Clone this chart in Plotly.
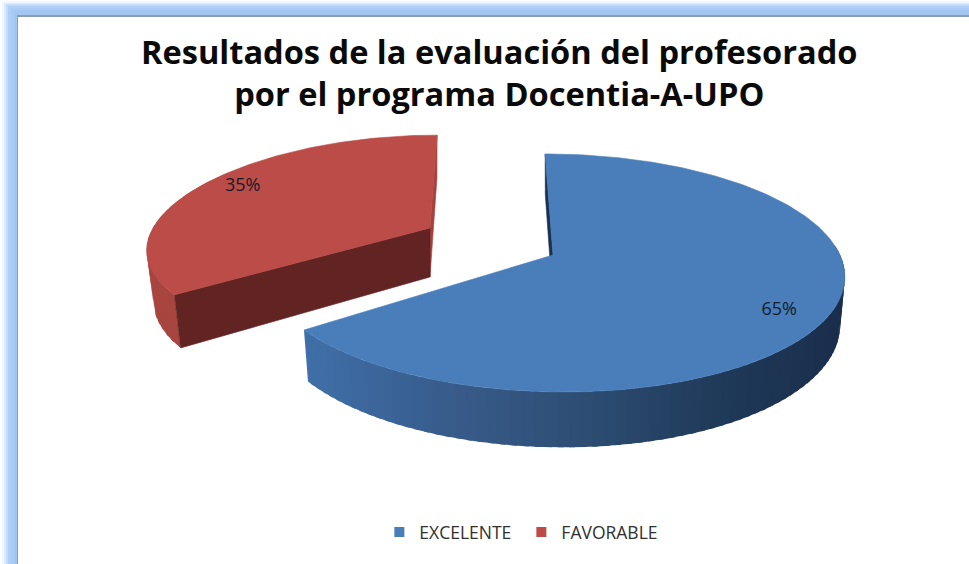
import math
import plotly.graph_objects as go

categories = ["EXCELENTE", "FAVORABLE"]
values = [65, 35]
title_lines = ["Resultados de la evaluación del profesorado", "por el programa Docentia-A-UPO"]

WIDTH, HEIGHT = 969, 564
# projection parameters of each exploded slice (style only)
BLUE_P = dict(ax=553, ay=255, R=287, H=116.3, k=0.151, s=-9, c=0, depth=47, shrink=0.984, label_r=0.84)
RED_P = dict(ax=430, ay=228, R=277, H=105, k=0.1307, s=8, c=-15, depth=49, shrink=0.976, label_r=0.865)
BLUE_TOP, RED_TOP = "#4A7EBB", "#BB4C48"
BLUE_WALL, RED_WALL, RED_SIDE, RED_SLIVER = "#1B3050", "#622423", "#A8453F", "#A5423E"
LABEL_DY = 2.5


def project(t_deg, r, p, bottom=False):
    t = math.radians(t_deg)
    u, v = r * math.sin(t), r * math.cos(t)
    d = 1 + p["k"] * v
    x = (p["R"] * u + p["s"] * v + p["c"] * u * v) / d
    y = -p["H"] * v / d
    if bottom:
        x *= p["shrink"]
        y += p["depth"] / d
    return p["ax"] + x, p["ay"] + y


def arc(t0, t1, p, bottom=False, step=1.0):
    n = max(1, int(abs(t1 - t0) / step))
    return [project(t0 + (t1 - t0) * i / n, 1, p, bottom) for i in range(n + 1)]


def poly(pts, color, width=0.6):
    xs, ys = zip(*pts)
    return go.Scatter(x=list(xs) + [xs[0]], y=list(ys) + [ys[0]], mode="lines", fill="toself",
                      fillcolor=color, line=dict(color=color, width=width), hoverinfo="skip",
                      showlegend=False)


def lerp_color(x):
    stops = [(300, (64, 112, 170)), (450, (56, 92, 140)), (600, (45, 76, 114)), (720, (32, 58, 90)), (845, (26, 46, 76))]
    for (a, ca), (b, cb) in zip(stops, stops[1:]):
        if x <= b:
            f = max(0, (x - a) / (b - a))
            return "rgb(%d,%d,%d)" % tuple(round(ca[i] + (cb[i] - ca[i]) * f) for i in range(3))
    return "rgb(%d,%d,%d)" % stops[-1][1]


total = sum(values)
blue_end = 360 * values[0] / total
red_start, red_end = blue_end, 360.0

fig = go.Figure()

# red slice
rp = RED_P
apex_r = (rp["ax"], rp["ay"])
apex_rb = project(0, 0, rp, True)
t = red_start
while t < 300.0:
    t1 = min(t + 3.0, 300.0)
    fig.add_trace(poly(arc(t, t1 + 1.5, rp, step=0.5) + arc(t1 + 1.5, t, rp, True, step=0.5), RED_SIDE, width=0))
    t = t1
fig.add_trace(poly([apex_r, project(red_end, 1, rp), project(red_end, 1, rp, True), apex_rb], RED_SLIVER))
fig.add_trace(poly([apex_r, project(red_start, 1, rp), project(red_start, 1, rp, True), apex_rb], RED_WALL))
fig.add_trace(poly([apex_r] + arc(red_start, red_end, rp), RED_TOP))

# blue slice
bp = BLUE_P
apex_b = (bp["ax"], bp["ay"])
apex_bb = project(0, 0, bp, True)
fig.add_trace(poly([apex_b, project(0, 1, bp), project(0, 1, bp, True), apex_bb], BLUE_WALL))
t = blue_end
while t > 85.0:
    # strips run from the light end to the dark end and overlap, so no seams show
    t1 = max(t - 2.0, 85.0)
    mx = project((t + t1) / 2, 1, bp)[0]
    t_far = min(t + 1.0, blue_end)
    fig.add_trace(poly(arc(t_far, t1, bp, step=0.5) + arc(t1, t_far, bp, True, step=0.5), lerp_color(mx), width=0))
    t = t1
fig.add_trace(poly([apex_b] + arc(0, blue_end, bp), BLUE_TOP))

# percentage labels
for val, mid, p in [(values[0], blue_end / 2, bp), (values[1], (red_start + red_end) / 2, rp)]:
    lx, ly = project(mid + 3.5, p["label_r"], p)
    fig.add_trace(go.Scatter(x=[lx], y=[ly + LABEL_DY], mode="text", text=[f"{val}%"], hoverinfo="skip",
                             textfont=dict(family="Open Sans", size=18, color="#141c28"), showlegend=False))

# legend entries
for name, color in zip(categories, [BLUE_TOP, RED_TOP]):
    fig.add_trace(go.Scatter(x=[None], y=[None], mode="markers", name=name,
                             marker=dict(symbol="square", size=10, color=color)))

shapes = []
bands = [(0, "#FBFDFF"), (2, "#F0F6FE"), (4, "#DCEAFB"), (6, "#C4DCF8"), (8, "#AFCFF6"), (11, "#A8CBF5"), (14, "#A3C7F2")]
for off, col in bands:
    shapes.append(dict(type="rect", x0=off, x1=WIDTH + 20, y0=off * 0.72, y1=HEIGHT + 20, fillcolor=col,
                       line_width=0, layer="below"))
shapes.append(dict(type="rect", x0=17, x1=WIDTH + 20, y0=15, y1=HEIGHT + 20, fillcolor="#8A9DB8",
                   line_width=0, layer="below"))
shapes.append(dict(type="rect", x0=18, x1=WIDTH + 20, y0=17, y1=HEIGHT + 20, fillcolor="#FFFFFF",
                   line_width=0, layer="below"))

fig.update_layout(
    width=WIDTH, height=HEIGHT, margin=dict(l=0, r=0, t=0, b=0),
    paper_bgcolor="white", plot_bgcolor="white",
    xaxis=dict(range=[0, WIDTH], visible=False, fixedrange=True),
    yaxis=dict(range=[HEIGHT, 0], visible=False, fixedrange=True),
    shapes=shapes,
    title=dict(text="<br>".join(f"<b>{s}</b>" for s in title_lines), x=0.5152, xanchor="center",
               y=0.887, yanchor="middle",
               font=dict(family="Open Sans", size=32.6, color="#0a0a0a")),
    legend=dict(orientation="h", x=0.3915, y=0.0567, xanchor="left", yanchor="middle",
                bgcolor="rgba(0,0,0,0)", font=dict(family="Open Sans", size=17.5, color="#303030"),
                itemwidth=30, entrywidth=97, entrywidthmode="pixels"),
)
fig.write_html("out.html", config={"displayModeBar": False},
               post_script="document.body.style.margin='0';document.body.style.overflow='hidden';")
